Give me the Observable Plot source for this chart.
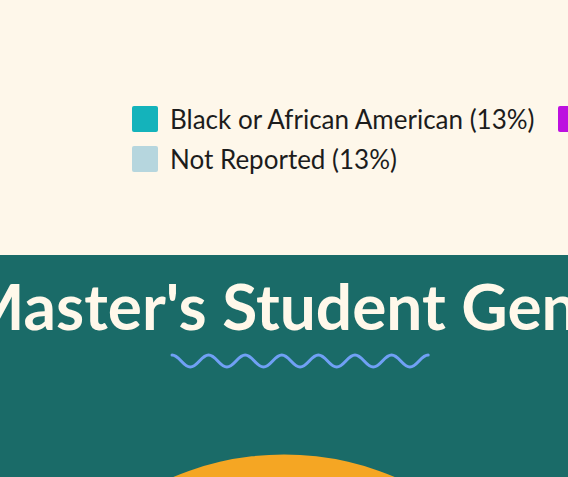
<!DOCTYPE html>
<html>
<head>
<meta charset="utf-8">
<script src="https://cdn.jsdelivr.net/npm/d3@7"></script>
<script src="https://cdn.jsdelivr.net/npm/@observablehq/plot@0.6"></script>
<style>
  html, body { margin: 0; padding: 0; width: 568px; height: 477px; overflow: hidden; background: #fef7ea; }
  #top { position: absolute; left: 0; top: 0; width: 568px; height: 255px; background: #fef7ea; overflow: hidden; }
  #legend { position: absolute; left: 132px; top: 103px; width: 720px; }
  #bottom { position: absolute; left: 0; top: 255px; width: 568px; height: 222px; background: #1a6b68; overflow: hidden; }
  #title { position: absolute; left: -182px; width: 1000px; top: 11px; text-align: center; white-space: nowrap;
           font: 700 64px Lato, sans-serif; letter-spacing: 0px; color: #fff8ea; margin: 0; line-height: 80px; }
  #wave { position: absolute; left: 170px; top: 97px; }
  #pie { position: absolute; left: 0; top: 180px; }
  .race-swatch > svg rect { rx: 2px; ry: 2px; }
</style>
</head>
<body>
<div id="top"><div id="legend"></div></div>
<div id="bottom">
  <h2 id="title"></h2>
  <svg id="wave" width="262" height="18"></svg>
  <div id="pie"></div>
</div>
<script>
// Race / ethnicity legend (chart above, mostly scrolled out of view)
const raceLabels = ["Black or African American (13%)", "Asian (61%)", "Not Reported (13%)"];
const raceColors = ["#14b3bb", "#bd10e0", "#b6d6de"];

// Gender chart
const chartTitle = "Master's Student Gender";
const genders = ["Women", "Men", "Not Reported"];
const genderShares = [58, 40, 2];
const genderColors = ["#f5a623", "#4a90e2", "#b6d6de"];

// Legend
const legend = Plot.legend({
  color: { type: "categorical", domain: raceLabels, range: raceColors },
  className: "race",
  swatchSize: 26,
  style: { fontFamily: "Lato, sans-serif", fontSize: "26px", color: "#1c1c1c", background: "transparent" }
});
document.getElementById("legend").appendChild(legend);
const css = document.createElement("style");
css.textContent = `
  .race-swatches-wrap { display:flex; flex-wrap: wrap; row-gap: 8px; min-height: 0 !important; margin: 0 !important; }
  .race-swatch { margin-right: 23px !important; }
  .race-swatch > svg { margin-right: 12px !important; }
`;
document.head.appendChild(css);

// Title
document.getElementById("title").textContent = chartTitle;

// Decorative wave under the title
(function () {
  const svg = d3.select("#wave");
  const p = d3.path();
  const period = 36.6, amp = 6, x0 = 2, yc = 9, n = 7;
  p.moveTo(x0, yc - amp);
  for (let i = 0; i < n * 2; i++) {
    const xa = x0 + i * period / 2, xb = xa + period / 2;
    const ya = i % 2 === 0 ? yc - amp : yc + amp;
    const yb = i % 2 === 0 ? yc + amp : yc - amp;
    p.bezierCurveTo(xa + period / 5, ya, xb - period / 5, yb, xb, yb);
  }
  svg.append("path").attr("d", p.toString()).attr("fill", "none")
    .attr("stroke", "#70a0f5").attr("stroke-width", 3).attr("stroke-linecap", "round");
})();

// Pie chart
const data = genders.map((g, i) => ({ gender: g, share: genderShares[i] }));
const W = 582, H = 640, R = 291, CY = 311;
const chart = Plot.plot({
  width: W, height: H, margin: 0,
  style: { background: "transparent", overflow: "visible" },
  x: { domain: [0, 1], axis: null },
  y: { domain: [0, 1], axis: null },
  color: { domain: genders, range: genderColors },
  marks: [
    (index, scales) => {
      const total = d3.sum(genderShares);
      const start = -Math.PI * genderShares[0] / total;
      const pie = d3.pie().value(d => d.share).sort(null).startAngle(start).endAngle(start + 2 * Math.PI);
      const arc = d3.arc().innerRadius(0).outerRadius(R);
      const g = d3.create("svg:g").attr("transform", `translate(${scales.x(0.5)},${CY})`);
      g.selectAll("path").data(pie(data)).join("path")
        .attr("d", arc).attr("fill", d => scales.color(d.data.gender));
      return g.node();
    }
  ]
});
document.getElementById("pie").appendChild(chart);
</script>
</body>
</html>
